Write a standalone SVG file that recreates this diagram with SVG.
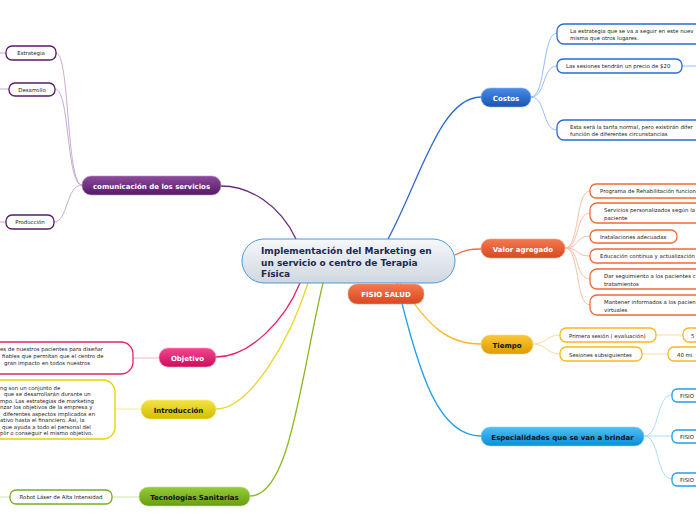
<svg xmlns="http://www.w3.org/2000/svg" width="696" height="520" viewBox="0 0 696 520">
<defs>
<linearGradient id="gC" x1="0" y1="0" x2="0" y2="1"><stop offset="0" stop-color="#f6f8fa"/><stop offset="1" stop-color="#cfd7df"/></linearGradient>
<linearGradient id="gBlue" x1="0" y1="0" x2="0" y2="1"><stop offset="0" stop-color="#4a8ce6"/><stop offset="1" stop-color="#1a54b4"/></linearGradient>
<linearGradient id="gOr" x1="0" y1="0" x2="0" y2="1"><stop offset="0" stop-color="#f47a50"/><stop offset="1" stop-color="#d84820"/></linearGradient>
<linearGradient id="gGold" x1="0" y1="0" x2="0" y2="1"><stop offset="0" stop-color="#fac638"/><stop offset="1" stop-color="#df9c00"/></linearGradient>
<linearGradient id="gSky" x1="0" y1="0" x2="0" y2="1"><stop offset="0" stop-color="#4cc0f4"/><stop offset="1" stop-color="#0c8ed6"/></linearGradient>
<linearGradient id="gPur" x1="0" y1="0" x2="0" y2="1"><stop offset="0" stop-color="#8c4c9c"/><stop offset="1" stop-color="#561868"/></linearGradient>
<linearGradient id="gPink" x1="0" y1="0" x2="0" y2="1"><stop offset="0" stop-color="#f2488e"/><stop offset="1" stop-color="#cc0c5c"/></linearGradient>
<linearGradient id="gYel" x1="0" y1="0" x2="0" y2="1"><stop offset="0" stop-color="#f2e444"/><stop offset="1" stop-color="#d4bc00"/></linearGradient>
<linearGradient id="gGrn" x1="0" y1="0" x2="0" y2="1"><stop offset="0" stop-color="#96cc38"/><stop offset="1" stop-color="#689e10"/></linearGradient>
<style>
text{font-family:"DejaVu Sans","Liberation Sans",sans-serif}
.main{font-size:7px;font-weight:bold;text-anchor:middle}
.w{fill:#ffffff}
.k{fill:#111111}
.sub{font-size:5.4px;fill:#222222}
.mid{text-anchor:middle}
.box{fill:#ffffff;stroke-width:1.3}
.c{fill:none;stroke-width:1.3}
.cs{fill:none;stroke-width:0.9}
</style>
</defs>

<g id="connectors">
<path class="c" stroke="#6a2a7a" d="M296,239 C280,205 250,186 221,186"/>
<path class="c" stroke="#e8206a" d="M300,283 C285,320 250,357 216,357"/>
<path class="c" stroke="#e8d820" d="M308,283 C290,340 250,409 216,409"/>
<path class="c" stroke="#8ab820" d="M323,283 C300,380 290,496 250,496"/>
<path class="c" stroke="#2a6ad8" d="M388,239 C420,180 440,97 481,97"/>
<path class="c" stroke="#f06a3a" d="M455,255 C465,250 470,249 481,249"/>
<path class="c" stroke="#f8b820" d="M400,283 C430,330 450,344 481,344"/>
<path class="c" stroke="#20a0e8" d="M397,283 C420,380 440,436 481,436"/>

<g stroke="#8ab8f0">
<path class="cs" d="M531,97 C546,97 542,33 557,33"/>
<path class="cs" d="M531,97 C546,97 542,66 557,66"/>
<path class="cs" d="M531,97 C546,97 542,130 557,130"/>
<path class="cs" d="M682,66 L696,66"/>
</g>
<g stroke="#f8b8a0">
<path class="cs" d="M565,248 C580,248 575,191 590,191"/>
<path class="cs" d="M565,248 C580,248 575,213 590,213"/>
<path class="cs" d="M565,248 C580,248 575,236 590,236"/>
<path class="cs" d="M565,248 C580,248 575,256 590,256"/>
<path class="cs" d="M565,248 C580,248 575,279 590,279"/>
<path class="cs" d="M565,248 C580,248 575,305 590,305"/>
</g>
<g stroke="#f8d890">
<path class="cs" d="M533,344 C547,344 546,335 560,335"/>
<path class="cs" d="M533,344 C547,344 546,354 560,354"/>
<path class="cs" d="M656,335 L683,335"/>
<path class="cs" d="M642,354 L668,354"/>
</g>
<g stroke="#a0d8f8">
<path class="cs" d="M644,436 C660,436 656,395 672,395"/>
<path class="cs" d="M644,436 L672,436"/>
<path class="cs" d="M644,436 C660,436 656,479 672,479"/>
</g>
<g stroke="#c0a0cc">
<path class="cs" d="M82,185 C66,185 70,53 56,53"/>
<path class="cs" d="M82,185 C66,185 70,89 55,89"/>
<path class="cs" d="M82,185 C66,185 68,222 54,222"/>
<path class="cs" d="M0,53 L6,53"/>
<path class="cs" d="M0,89 L9,89"/>
<path class="cs" d="M0,222 L6,222"/>
</g>
<path class="cs" stroke="#f8a8c8" d="M159,358 L133,358"/>
<path class="cs" stroke="#f0e890" d="M141,409 L115,409"/>
<g stroke="#c8e098">
<path class="cs" d="M139,497 L112,497"/>
<path class="cs" d="M0,497 L10,497"/>
</g>
</g>

<g id="central">
<rect x="242" y="239" width="213" height="44" rx="22" fill="url(#gC)" stroke="#4a98d8" stroke-width="1"/>
<text x="261" y="254" font-size="9" font-weight="bold" fill="#1a2a50">Implementación del Marketing en</text>
<text x="261" y="266" font-size="9" font-weight="bold" fill="#1a2a50">un servicio o centro de Terapia</text>
<text x="261" y="277" font-size="9" font-weight="bold" fill="#1a2a50">Física</text>
</g>

<g id="fisio-salud">
<rect x="348" y="284" width="76" height="20" rx="9" fill="url(#gOr)" stroke="#f8a080" stroke-width="0.6"/>
<text x="386" y="297" class="main w" font-size="6.5">FISIO SALUD</text>
</g>

<g id="costos">
<rect x="481" y="88" width="50" height="19" rx="9" fill="url(#gBlue)" stroke="#90b8f0" stroke-width="0.6"/>
<text x="506" y="100.5" class="main w">Costos</text>
</g>
<g id="costos-1">
<rect x="557" y="24" width="160" height="20" rx="7" class="box" stroke="#2a6ad8"/>
<text x="570" y="32.5" class="sub">La estrategia que se va a seguir en este nuev</text>
<text x="570" y="40" class="sub">misma que otros lugares.</text>
</g>
<g id="costos-2">
<rect x="557" y="59" width="125" height="14" rx="6" class="box" stroke="#2a6ad8"/>
<text x="566" y="68" class="sub">Las sesiones tendrán un precio de $20</text>
</g>
<g id="costos-3">
<rect x="557" y="120" width="160" height="20" rx="7" class="box" stroke="#2a6ad8"/>
<text x="570" y="128.5" class="sub">Esta será la tarifa normal, pero existirán difer</text>
<text x="570" y="136" class="sub">función de diferentes circunstancias</text>
</g>

<g id="valor-agregado">
<rect x="481" y="239" width="84" height="19" rx="9" fill="url(#gOr)" stroke="#f8a080" stroke-width="0.6"/>
<text x="523" y="251.5" class="main w">Valor agregado</text>
</g>
<g id="valor-1">
<rect x="590" y="184" width="130" height="14" rx="6" class="box" stroke="#f06a3a"/>
<text x="600" y="193" class="sub">Programa de Rehabilitación funcion</text>
</g>
<g id="valor-2">
<rect x="590" y="203" width="130" height="20" rx="7" class="box" stroke="#f06a3a"/>
<text x="604" y="211.5" class="sub">Servicios personalizados según la</text>
<text x="604" y="219.5" class="sub">paciente</text>
</g>
<g id="valor-3">
<rect x="590" y="230" width="87" height="13" rx="6" class="box" stroke="#f06a3a"/>
<text x="600" y="238.5" class="sub">Instalaciones adecuadas</text>
</g>
<g id="valor-4">
<rect x="590" y="249" width="130" height="14" rx="6" class="box" stroke="#f06a3a"/>
<text x="600" y="258" class="sub">Educación continua y actualización</text>
</g>
<g id="valor-5">
<rect x="590" y="269" width="130" height="20" rx="7" class="box" stroke="#f06a3a"/>
<text x="604" y="277.5" class="sub">Dar seguimiento a los pacientes c</text>
<text x="604" y="285.5" class="sub">tratamientos</text>
</g>
<g id="valor-6">
<rect x="590" y="295" width="130" height="20" rx="7" class="box" stroke="#f06a3a"/>
<text x="604" y="303.5" class="sub">Mantener informados a los pacien</text>
<text x="604" y="311.5" class="sub">virtuales</text>
</g>

<g id="tiempo">
<rect x="481" y="335" width="52" height="19" rx="9" fill="url(#gGold)" stroke="#fad880" stroke-width="0.6"/>
<text x="507" y="347.5" class="main k">Tiempo</text>
</g>
<g id="tiempo-1">
<rect x="560" y="328" width="96" height="14" rx="6" class="box" stroke="#f8b820"/>
<text x="569" y="337.5" class="sub">Primera sesión ( evaluación)</text>
</g>
<g id="tiempo-1a">
<rect x="683" y="328" width="40" height="14" rx="6" class="box" stroke="#f8b820"/>
<text x="691" y="337.5" class="sub">5</text>
</g>
<g id="tiempo-2">
<rect x="560" y="347" width="82" height="14" rx="6" class="box" stroke="#f8b820"/>
<text x="569" y="356.5" class="sub">Sesiones subsiguientes</text>
</g>
<g id="tiempo-2a">
<rect x="668" y="347" width="50" height="14" rx="6" class="box" stroke="#f8b820"/>
<text x="677" y="356.5" class="sub">40 mi</text>
</g>

<g id="especialidades">
<rect x="481" y="427" width="163" height="19" rx="9" fill="url(#gSky)" stroke="#90d4f8" stroke-width="0.6"/>
<text x="562.5" y="439.5" class="main k">Especialidades que se van a brindar</text>
</g>
<g id="esp-1">
<rect x="672" y="389" width="40" height="13" rx="5" class="box" stroke="#20a0e8"/>
<text x="680" y="397.5" class="sub">FISIO</text>
</g>
<g id="esp-2">
<rect x="672" y="430" width="40" height="13" rx="5" class="box" stroke="#20a0e8"/>
<text x="680" y="438.5" class="sub">FISIO</text>
</g>
<g id="esp-3">
<rect x="672" y="473" width="40" height="13" rx="5" class="box" stroke="#20a0e8"/>
<text x="680" y="481.5" class="sub">FISIO</text>
</g>

<g id="comunicacion">
<rect x="82" y="176" width="139" height="19" rx="9" fill="url(#gPur)" stroke="#b890c4" stroke-width="0.6"/>
<text x="151.5" y="188.5" class="main w">comunicación de los servicios</text>
</g>
<g id="estrategia">
<rect x="6" y="46" width="50" height="14" rx="6" class="box" stroke="#5a1a6a"/>
<text x="31" y="55" class="sub mid">Estrategia</text>
</g>
<g id="desarrollo">
<rect x="9" y="83" width="46" height="13" rx="6" class="box" stroke="#5a1a6a"/>
<text x="32" y="91.5" class="sub mid">Desarrollo</text>
</g>
<g id="produccion">
<rect x="6" y="215" width="48" height="14" rx="6" class="box" stroke="#5a1a6a"/>
<text x="30" y="224" class="sub mid">Producción</text>
</g>

<g id="objetivo">
<rect x="159" y="348" width="57" height="19" rx="9" fill="url(#gPink)" stroke="#f8a0c4" stroke-width="0.6"/>
<text x="187.5" y="360.5" class="main w">Objetivo</text>
</g>
<g id="objetivo-texto">
<rect x="-40" y="342" width="173" height="32" rx="12" class="box" stroke="#e8206a"/>
<text x="0" y="351" class="sub">es de nuestros pacientes para diseñar</text>
<text x="2" y="358" class="sub">fiables que permitan que el centro de</text>
<text x="4" y="365" class="sub">gran impacto en todos nuestros</text>
</g>

<g id="introduccion">
<rect x="141" y="400" width="75" height="19" rx="9" fill="url(#gYel)" stroke="#f4ec90" stroke-width="0.6"/>
<text x="178.5" y="412.5" class="main k">Introducción</text>
</g>
<g id="introduccion-texto">
<rect x="-40" y="380" width="155" height="59" rx="12" class="box" stroke="#e8d000"/>
<text x="0" y="389.5" class="sub">ng son un conjunto de</text>
<text x="4" y="396" class="sub">que se desarrollarán durante un</text>
<text x="0" y="402.5" class="sub">mpo. Las estrategias de marketing</text>
<text x="0" y="409" class="sub">nzar los objetivos de la empresa y</text>
<text x="3" y="415.5" class="sub">diferentes aspectos implicados en</text>
<text x="0" y="422" class="sub">ativo hasta el financiero. Así, la</text>
<text x="2" y="428.5" class="sub">que ayuda a todo el personal del</text>
<text x="0" y="435" class="sub">plir o conseguir el mismo objetivo.</text>
</g>

<g id="tecnologias">
<rect x="139" y="487" width="111" height="19" rx="9" fill="url(#gGrn)" stroke="#c4e090" stroke-width="0.6"/>
<text x="194.5" y="499.5" class="main k">Tecnologías Sanitarias</text>
</g>
<g id="robot">
<rect x="10" y="490" width="102" height="14" rx="6" class="box" stroke="#7ab020"/>
<text x="61" y="499" class="sub mid">Robot Láser de Alta Intensidad</text>
</g>
</svg>
